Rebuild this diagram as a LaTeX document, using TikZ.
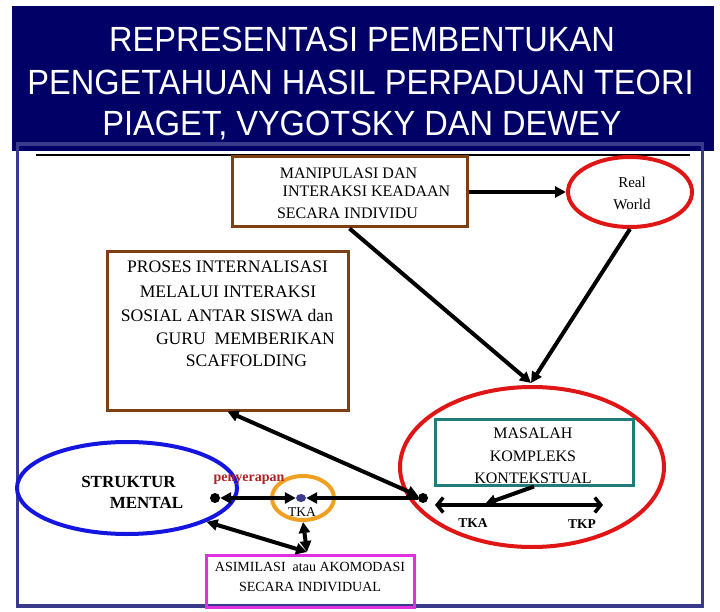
\documentclass[tikz,border=0pt]{standalone}
\usepackage{fontspec}
\setmainfont{Liberation Serif}
\newfontfamily\titlefont[FakeStretch=0.93]{Liberation Sans}
\usetikzlibrary{arrows.meta,shapes.geometric}
\definecolor{navybg}{HTML}{000066}
\definecolor{framec}{HTML}{3A3A8C}
\definecolor{brownc}{HTML}{7F3F14}
\definecolor{redc}{HTML}{E01515}
\definecolor{bluec}{HTML}{1515E0}
\definecolor{orangec}{HTML}{F0A020}
\definecolor{tealc}{HTML}{237C7C}
\definecolor{magc}{HTML}{E030E0}
\definecolor{penc}{HTML}{B02020}
\definecolor{dotc}{HTML}{3A3A8C}
\begin{document}
\begin{tikzpicture}[x=1pt,y=-1pt,
  titletxt/.style={text=white,font=\titlefont\fontsize{35}{40}\selectfont,inner sep=0},
  boxshape/.style={draw,rectangle,line width=3pt,inner sep=0},
  ell/.style={draw,ellipse,line width=4pt,inner sep=0},
  txt/.style={inner sep=0,font=\fontsize{16}{18}\selectfont},
  txtb/.style={inner sep=0,font=\fontsize{17.6}{20}\selectfont},
  bold/.style={inner sep=0,font=\bfseries\fontsize{13.5}{16}\selectfont},
  arr/.style={line width=4pt,-{Triangle[length=11pt,width=11pt]}},
  arrtwo/.style={line width=4pt,{Triangle[length=11pt,width=11pt]}-{Triangle[length=11pt,width=11pt]}},
  barb/.style={line width=3.5pt,{Straight Barb[length=6pt,width=15pt]}-{Straight Barb[length=6pt,width=15pt]}},
  dot/.style={circle,fill=black,inner sep=0,minimum size=10pt}
]
\useasboundingbox (0,0) rectangle (720,612);
% title banner
\node[fill=navybg,rectangle,inner sep=0,minimum width=702pt,minimum height=145pt] (banner) at (363,78.5) {};
\node[titletxt] (t1) at (362,39.5) {REPRESENTASI PEMBENTUKAN};
\node[titletxt] (t2) at (360.5,82.5) {PENGETAHUAN HASIL PERPADUAN TEORI};
\node[titletxt] (t3) at (362,125.5) {PIAGET, VYGOTSKY DAN DEWEY};
% frame
\node[draw=framec,line width=3.5pt,rectangle,inner sep=0,minimum width=685pt,minimum height=462pt] (frame) at (360,375) {};
\coordinate (hl1) at (36,155);
\coordinate (hl2) at (690,155);
\draw[line width=2pt] (hl1) -- (hl2);
% boxes
\node[boxshape,draw=brownc,minimum width=235pt,minimum height=70pt] (man) at (349.5,192) {};
\node[txt] (m1) at (348.5,173) {MANIPULASI DAN};
\node[txt] (m2) at (366.5,191) {INTERAKSI KEADAAN};
\node[txt] (m3) at (347.5,213) {SECARA INDIVIDU};
\node[boxshape,draw=brownc,minimum width=241pt,minimum height=158pt] (proses) at (227.5,331) {};
\node[txtb] (p1) at (227.5,267) {PROSES INTERNALISASI};
\node[txtb] (p2) at (228,292) {MELALUI INTERAKSI};
\node[txtb] (p3) at (227,316) {SOSIAL ANTAR SISWA dan};
\node[txtb] (p4) at (245.5,339) {GURU\ \ MEMBERIKAN};
\node[txtb] (p5) at (246.5,361) {SCAFFOLDING};
% ellipses
\node[ell,draw=redc,minimum width=124pt,minimum height=70pt] (rw) at (630,192) {};
\node[inner sep=0,font=\fontsize{15}{17}\selectfont] (rw1) at (632,182) {Real};
\node[inner sep=0,font=\fontsize{15}{17}\selectfont] (rw2) at (632,204) {World};
\node[ell,draw=redc,minimum width=264pt,minimum height=160pt] (big) at (532,467) {};
\node[boxshape,draw=tealc,minimum width=198pt,minimum height=66pt] (teal) at (534,452) {};
\node[txt] (k1) at (533,433) {MASALAH};
\node[txt] (k2) at (533,456) {KOMPLEKS};
\node[txt] (k3) at (533,478) {KONTEKSTUAL};
\node[ell,draw=bluec,minimum width=220pt,minimum height=92pt] (blue) at (127,488) {};
\node[inner sep=0,font=\bfseries\fontsize{17}{20}\selectfont] (s1) at (128.5,482) {STRUKTUR};
\node[inner sep=0,font=\bfseries\fontsize{17}{20}\selectfont] (s2) at (146.5,503) {MENTAL};
\node[ell,draw=orangec,minimum width=62pt,minimum height=44pt] (orange) at (303,498) {};
\node[inner sep=0,font=\fontsize{13.5}{16}\selectfont] (tka1) at (302,512) {TKA};
\node[inner sep=0,text=penc,font=\bfseries\fontsize{14}{16}\selectfont] (pen) at (249,480) {penyerapan};
\node[boxshape,draw=magc,minimum width=208pt,minimum height=52pt] (asim) at (310,581) {};
\node[inner sep=0,font=\fontsize{14}{16}\selectfont] (a1) at (310,567) {ASIMILASI\ \ atau AKOMODASI};
\node[inner sep=0,font=\fontsize{14}{16}\selectfont] (a2) at (310,587) {SECARA INDIVIDUAL};
\node[bold] (tka2) at (473,523) {TKA};
\node[bold] (tkp) at (582,524) {TKP};
% dots
\node[dot] (dotL) at (215,498) {};
\node[dot] (dotR) at (423,498) {};
\node[ellipse,fill=dotc,inner sep=0,minimum width=10pt,minimum height=8pt] (tkadot) at (301,498) {};
\coordinate (c1) at (531,383);
\coordinate (knot) at (307,552);
\coordinate (tip) at (485,504);
\coordinate (lt) at (435,505);
\coordinate (rt) at (603,505);
% connectors
\draw[arr] (man) -- (rw);
\draw[arr] (man.south) -- (c1);
\draw[arr] (rw.south) -- (c1);
\draw[arrtwo] (proses.south) -- (dotR);
\draw[arrtwo] (dotL) -- (tkadot);
\draw[arr] (dotR) -- (tkadot);
\draw[arrtwo] (knot) -- (orange.south);
\draw[arrtwo] (knot) -- (blue.-23);
\draw[barb] (lt) -- (rt);
\draw[arr] (teal.south) -- (tip);
\end{tikzpicture}
\end{document}
